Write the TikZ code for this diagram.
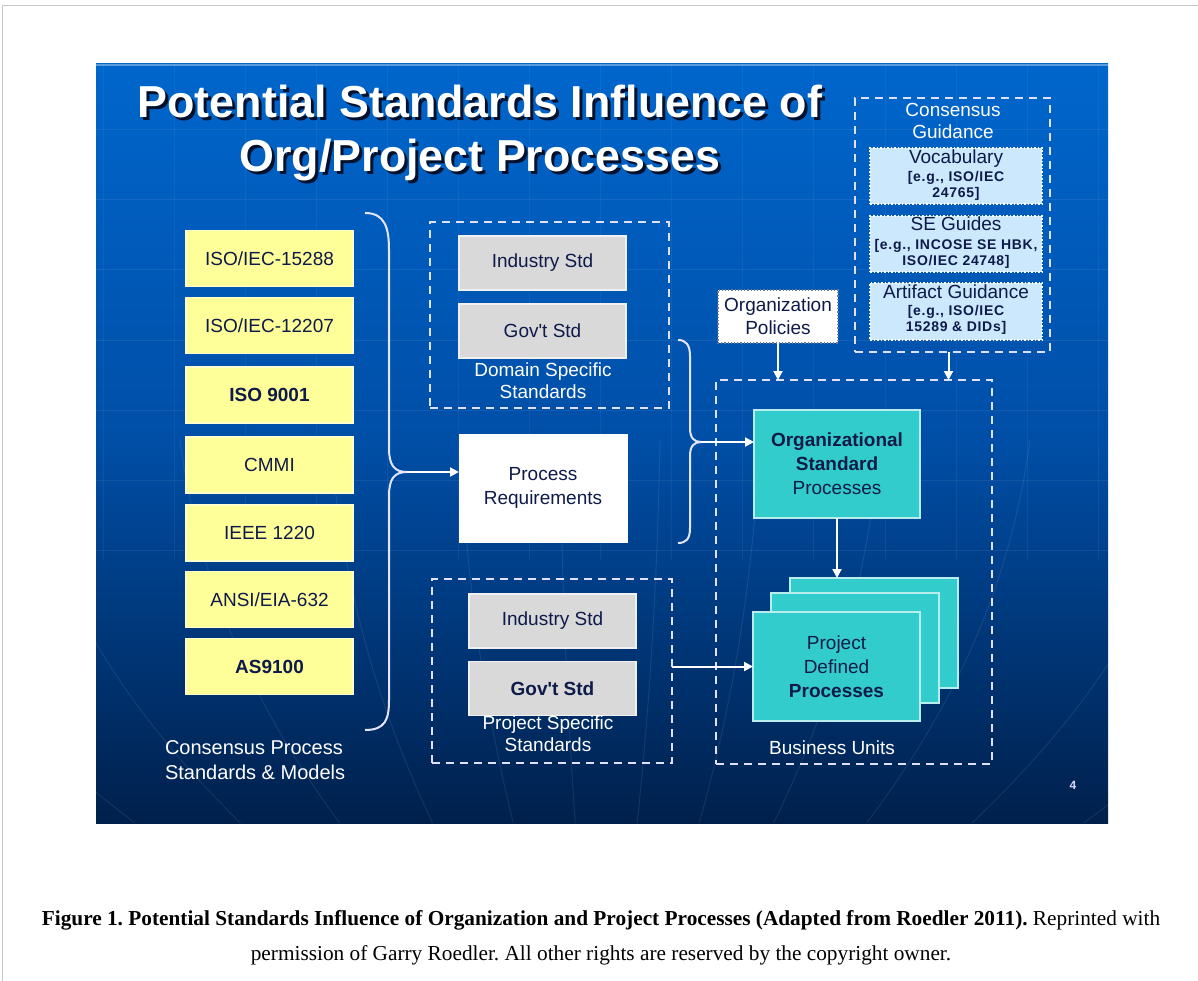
\documentclass[tikz,border=0pt]{standalone}
\usepackage{fontspec}
\setmainfont{Liberation Serif}
\newfontfamily\slidefont{Liberation Sans}
\newfontfamily\slidesubfont[LetterSpace=5.0]{Liberation Sans}
\usetikzlibrary{arrows.meta}
\definecolor{slideTop}{HTML}{0066CC}
\definecolor{slideMid}{HTML}{004EA6}
\definecolor{slideBot}{HTML}{00204C}
\definecolor{yellowbox}{HTML}{FFFF99}
\definecolor{graybox}{HTML}{D9D9D9}
\definecolor{tealbox}{HTML}{33CCCC}
\definecolor{lightbluebox}{HTML}{CCE8FC}
\definecolor{navytext}{HTML}{0E1A4A}
\definecolor{titleshadowcol}{HTML}{00112E}
\newcommand{\shadowtitle}[1]{\rlap{\kern3pt\raisebox{-3pt}{\color{titleshadowcol}#1}}#1}
\begin{document}
\frenchspacing
\begin{tikzpicture}[x=1pt,y=-1pt,
  every node/.style={inner sep=0pt, outer sep=0pt},
  slidetxt/.style={font=\slidefont\fontsize{19}{22}\selectfont, text=white, align=center},
  boxtxt/.style={font=\slidefont\fontsize{19}{24}\selectfont, text=navytext, align=center},
  ybox/.style={boxtxt, fill=yellowbox, draw=yellowbox!50!white, line width=1.5pt, minimum width=167pt, minimum height=56pt},
  gbox/.style={boxtxt, fill=graybox, draw=graybox!40!white, line width=1.5pt, minimum width=167pt, minimum height=54pt},
  tbox/.style={boxtxt, fill=tealbox, draw=tealbox!35!white, line width=1.5pt},
  dashbox/.style={draw=white!88!blue, dash pattern=on 8pt off 6pt, line width=2.5pt},
  arr/.style={draw=white, line width=2pt, -{Triangle[length=9pt,width=9pt]}},
  bracestyle/.style={draw=white!90!blue, line width=2pt},
  gdbox/.style={fill=lightbluebox, draw=white, dotted, line width=1.5pt, minimum width=172pt},
  gdtitle/.style={font=\slidefont\fontsize{19}{22}\selectfont, text=navytext},
  gdsub/.style={font=\slidesubfont\bfseries\fontsize{14}{16}\selectfont, text=navytext, align=center},
  titletxt/.style={font=\slidefont\bfseries\fontsize{44.8}{50}\selectfont, text=white},
]
\useasboundingbox (0,0) rectangle (1198,981);
% outer frame
\draw[black!22, line width=1pt] (1198,6) -- (2,6) -- (2,981);

% slide background
\shade[top color=slideTop, bottom color=slideBot, middle color=slideMid] (96,64) rectangle (1108,823);
\begin{scope}
  \clip (96,64) rectangle (1108,823);
  \draw[white, opacity=0.35, line width=1.5pt] (96,65) -- (1108,65);
  \foreach \yy in {130,200,270,340,410,480,550}
    \draw[white, opacity=0.07, line width=1pt] (96,\yy) -- (1108,\yy);
  \foreach \xx in {103,174,245,316,387,458,529,600,671,742,813,885,956,1027,1098}
    \draw[white, opacity=0.05, line width=1pt] (\xx,64) -- (\xx,560);
  \foreach \xx in {-150,20,180,330,460,560,660,760,880,1030,1200,1380}
    \draw[white, opacity=0.08, line width=1pt] (\xx,440) .. controls ({600+(\xx-600)*0.95},600) and ({600+(\xx-600)*0.8},720) .. ({600+(\xx-600)*0.62},823);
\end{scope}

% title
\node[titletxt, anchor=base] (t1) at (480,118) {\shadowtitle{Potential Standards Influence of}};
\node[titletxt, anchor=base] (t2) at (480,172) {\shadowtitle{Org/Project Processes}};

% consensus guidance
\node[dashbox, minimum width=195pt, minimum height=254pt] (cg) at (952.5,225) {};
\node[slidetxt] (cgl) at (953,121) {Consensus\\Guidance};
\node[gdbox, minimum height=56pt] (voc) at (956,176) {};
\node[gdtitle] (voct) at (956,159) {Vocabulary};
\node[gdsub] (vocs) at (956,186) {[e.g., ISO/IEC\\24765]};
\node[gdbox, minimum height=56pt] (seg) at (956,244) {};
\node[gdtitle] (segt) at (956,224) {SE Guides};
\node[gdsub] (segs) at (956,254) {[e.g., INCOSE SE HBK,\\ISO/IEC 24748]};
\node[gdbox, minimum height=57pt] (art) at (956,311.5) {};
\node[gdtitle] (artt) at (956,292) {Artifact Guidance};
\node[gdsub] (arts) at (956,320) {[e.g., ISO/IEC\\15289 \& DIDs]};

% organization policies
\node[boxtxt, fill=white, draw=navytext!60, dotted, line width=1.2pt, minimum width=120pt, minimum height=53pt, font=\slidefont\fontsize{19}{23}\selectfont] (op) at (778,316.5) {Organization\\Policies};

% business units
\node[dashbox, minimum width=276pt, minimum height=384pt] (bu) at (854,572) {};
\node[slidetxt] (bul) at (832,748) {Business Units};
\node[tbox, minimum width=166pt, minimum height=108pt] (osp) at (837,464) {\textbf{Organizational}\\\textbf{Standard}\\Processes};
\node[tbox, minimum width=168pt, minimum height=110pt] (pdp3) at (874,633) {};
\node[tbox, minimum width=168pt, minimum height=110pt] (pdp2) at (855,648) {};
\node[tbox, minimum width=167pt, minimum height=109pt] (pdp1) at (836.5,666.5) {Project\\Defined\\\textbf{Processes}};

% left column
\node[ybox] (s1) at (269.5,258.5) {ISO/IEC-15288};
\node[ybox] (s2) at (269.5,325.5) {ISO/IEC-12207};
\node[ybox] (s3) at (269.5,395) {\textbf{ISO 9001}};
\node[ybox] (s4) at (269.5,465) {CMMI};
\node[ybox] (s5) at (269.5,533) {IEEE 1220};
\node[ybox] (s6) at (269.5,599.5) {ANSI/EIA-632};
\node[ybox] (s7) at (269.5,666.5) {\textbf{AS9100}};
\node[slidetxt, align=left, anchor=west, font=\slidefont\fontsize{20}{25}\selectfont] (cpl) at (165,760) {Consensus Process\\Standards \& Models};

% domain specific standards
\node[dashbox, minimum width=239pt, minimum height=186pt] (dom) at (549.5,315) {};
\node[gbox] (di) at (542.5,263) {Industry Std};
\node[gbox] (dg) at (542.5,331) {Gov't Std};
\node[slidetxt] (doml) at (543,381) {Domain Specific\\Standards};

% process requirements
\node[boxtxt, fill=white, draw=white, minimum width=168pt, minimum height=108pt] (pr) at (543,488) {Process\\Requirements};

% project specific standards
\node[dashbox, minimum width=240pt, minimum height=184pt] (prj) at (552,671) {};
\node[gbox] (pi) at (552.5,621) {Industry Std};
\node[gbox] (pg) at (552.5,688.5) {\textbf{Gov't Std}};
\node[slidetxt] (prjl) at (548,734) {Project Specific\\Standards};

% braces
\coordinate (b1tip) at (407,472);
\draw[bracestyle] (365,213) .. controls (385,213) and (389,228) .. (389,250) -- (389,448)
  .. controls (389,465) and (394,472) .. (b1tip)
  .. controls (394,472) and (389,479) .. (389,496) -- (389,700)
  .. controls (389,720) and (385,730) .. (365,730);
\coordinate (b2tip) at (701,442);
\draw[bracestyle] (678,340) .. controls (686,340) and (690,345) .. (690,356) -- (690,428)
  .. controls (690,438) and (694,442) .. (b2tip)
  .. controls (694,442) and (690,446) .. (690,456) -- (690,528)
  .. controls (690,539) and (686,543) .. (678,543);

% connectors
\draw[arr] (b1tip) -- (b1tip -| pr.west);
\draw[arr] (b2tip) -- (b2tip -| osp.west);
\draw[arr] (pdp1.west -| prj.east) -- (pdp1.west);
\draw[arr] (op.south) -- (op.south |- bu.north);
\draw[arr] ([xshift=-4pt]cg.south) -- ([xshift=-4pt]cg.south |- bu.north);
\draw[arr] (osp.south) -- (osp.south |- pdp3.north);

% page number
\node[font=\slidefont\bfseries\fontsize{12}{14}\selectfont, text=white!85!blue] (pn) at (1073,785) {4};

% caption
\node[font=\fontsize{21.3}{25}\selectfont, anchor=base] (cap1) at (601,925) {\textbf{Figure 1. Potential Standards Influence of Organization and Project Processes (Adapted from Roedler 2011).} Reprinted with};
\node[font=\fontsize{21.3}{25}\selectfont, anchor=base] (cap2) at (601,960) {permission of Garry Roedler. All other rights are reserved by the copyright owner.};
\end{tikzpicture}
\end{document}
